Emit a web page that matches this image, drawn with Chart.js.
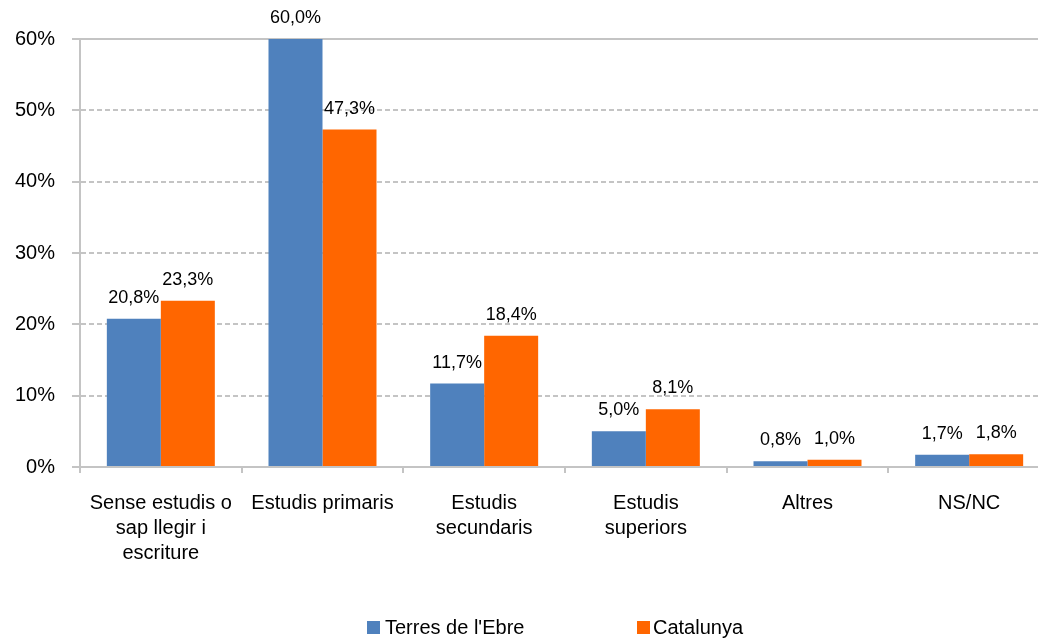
<!DOCTYPE html>
<html>
<head>
<meta charset="utf-8">
<script src="https://cdn.jsdelivr.net/npm/chart.js@4/dist/chart.umd.min.js"></script>
<style>
  html, body { margin: 0; padding: 0; background: #fff; }
  #wrap { position: relative; width: 1038px; height: 639px; overflow: hidden; }
  #c { position: absolute; left: 0; top: 0; }
  .lg { position: absolute; font-family: "Liberation Sans", Arial, sans-serif; font-size: 20px; color: #000; line-height: 24px; white-space: nowrap; }
  .bx { position: absolute; width: 13px; height: 13px; }
</style>
</head>
<body>
<div id="wrap">
  <canvas id="c" width="1060" height="639"></canvas>
  <div class="bx" style="left:367px; top:621px; background:#4F81BD;"></div>
  <div class="lg" style="left:385px; top:615px;">Terres de l'Ebre</div>
  <div class="bx" style="left:637px; top:621px; background:#FF6600;"></div>
  <div class="lg" style="left:653px; top:615px;">Catalunya</div>
</div>
<script>
const categories = [
  ["Sense estudis o", "sap llegir i", "escriture"],
  "Estudis primaris",
  ["Estudis", "secundaris"],
  ["Estudis", "superiors"],
  "Altres",
  "NS/NC"
];
const seriesNames = ["Terres de l'Ebre", "Catalunya"];
const terresEbre = [20.8, 60.0, 11.7, 5.0, 0.8, 1.7];
const catalunya = [23.3, 47.3, 18.4, 8.1, 1.0, 1.8];
const yTicks = [0, 10, 20, 30, 40, 50, 60];

const FONT = '"Liberation Sans", Arial, sans-serif';
const GRID = '#c4c4c4';

const fmt = v => v.toFixed(1).replace('.', ',') + '%';

const valueLabels = {
  id: 'valueLabels',
  afterDatasetsDraw(chart) {
    const ctx = chart.ctx;
    ctx.save();
    ctx.font = '18px ' + FONT;
    ctx.fillStyle = '#000';
    ctx.textAlign = 'center';
    ctx.textBaseline = 'middle';
    chart.data.datasets.forEach((ds, di) => {
      const meta = chart.getDatasetMeta(di);
      meta.data.forEach((el, i) => {
        ctx.fillText(fmt(ds.data[i]), el.x, el.y - 21);
      });
    });
    ctx.restore();
  }
};

new Chart(document.getElementById('c'), {
  type: 'bar',
  data: {
    labels: categories,
    datasets: [
      { label: seriesNames[0], data: terresEbre, backgroundColor: '#4F81BD', borderWidth: 0 },
      { label: seriesNames[1], data: catalunya, backgroundColor: '#FF6600', borderWidth: 0 }
    ]
  },
  options: {
    responsive: false,
    devicePixelRatio: 1,
    animation: false,
    layout: { padding: { left: 0, right: 10, top: 39, bottom: 0 } },
    plugins: {
      legend: { display: false },
      tooltip: { enabled: false }
    },
    datasets: { bar: { barPercentage: 1.0, categoryPercentage: 0.668 } },
    scales: {
      x: {
        grid: { drawOnChartArea: false, drawTicks: true, tickLength: 6, color: GRID, lineWidth: 2, offset: true },
        border: { display: true, color: GRID, width: 2 },
        ticks: {
          font: { family: FONT, size: 20, lineHeight: 1.25 },
          color: '#000',
          padding: 18,
          maxRotation: 0,
          minRotation: 0,
          autoSkip: false
        },
        afterFit(scale) { scale.height = 639 - 467; }
      },
      y: {
        min: 0,
        max: 60,
        afterBuildTicks(scale) { scale.ticks = yTicks.map(v => ({ value: v })); },
        grid: { color: GRID, lineWidth: 2, tickLength: 8, drawTicks: true },
        border: {
          display: true, color: GRID, width: 2,
          dash: (ctx) => (ctx && ctx.tick && ctx.tick.value !== 60 && ctx.tick.value !== 0) ? [5, 3] : []
        },
        ticks: {
          font: { family: FONT, size: 20 },
          color: '#000',
          padding: 17,
          callback: v => v + '%'
        },
        afterFit(scale) { scale.width = 80; }
      }
    }
  },
  plugins: [valueLabels]
});
</script>
</body>
</html>
